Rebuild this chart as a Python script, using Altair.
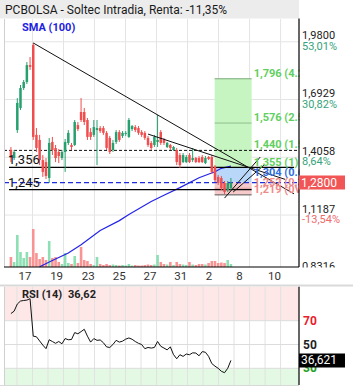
import altair as alt
import numpy as np
import pandas as pd

TITLE = "PCBOLSA - Soltec Intradia, Renta: -11,35%"

# ---- candles (one per bar) ----
opens = [1.442,1.402,1.541,1.651,1.750,1.780,1.864,1.964,1.517,1.492,
         1.392,1.382,1.303,1.482,1.452,1.432,1.402,1.432,1.477,1.467,
         1.467,1.566,1.631,1.631,1.591,1.531,1.517,1.541,1.551,1.551,
         1.527,1.502,1.442,1.482,1.531,1.512,1.522,1.507,1.546,1.556,
         1.551,1.531,1.527,1.502,1.477,1.467,1.482,1.531,1.492,1.457,
         1.467,1.442,1.442,1.417,1.382,1.382,1.417,1.392,1.402,1.402,
         1.407,1.377,1.407,1.407,1.358,1.308,1.303,1.278,1.243,1.253]
closes = [1.402,1.432,1.676,1.750,1.780,1.864,1.855,1.507,1.452,1.392,
          1.333,1.313,1.477,1.442,1.402,1.412,1.432,1.482,1.527,1.457,
          1.581,1.546,1.591,1.581,1.507,1.507,1.556,1.551,1.536,1.527,
          1.452,1.432,1.477,1.531,1.492,1.527,1.527,1.591,1.561,1.541,
          1.527,1.517,1.502,1.467,1.452,1.507,1.492,1.477,1.477,1.477,
          1.452,1.457,1.382,1.367,1.417,1.407,1.382,1.402,1.382,1.382,
          1.382,1.402,1.397,1.333,1.293,1.278,1.253,1.233,1.278,1.280]
highs = [1.457,1.442,1.700,1.765,1.790,1.879,1.904,1.974,1.551,1.517,
         1.417,1.402,1.502,1.507,1.467,1.447,1.442,1.497,1.541,1.477,
         1.591,1.581,1.700,1.651,1.601,1.551,1.591,1.591,1.561,1.561,
         1.536,1.512,1.492,1.541,1.541,1.536,1.536,1.601,1.566,1.566,
         1.561,1.541,1.536,1.512,1.487,1.517,1.616,1.541,1.502,1.482,
         1.472,1.462,1.452,1.427,1.427,1.417,1.427,1.452,1.407,1.412,
         1.417,1.412,1.412,1.417,1.367,1.318,1.313,1.288,1.288,1.303]
lows = [1.382,1.392,1.527,1.641,1.740,1.770,1.840,1.492,1.432,1.367,
        1.308,1.298,1.278,1.417,1.382,1.377,1.392,1.333,1.467,1.442,
        1.462,1.536,1.581,1.566,1.492,1.492,1.507,1.367,1.527,1.517,
        1.442,1.422,1.432,1.472,1.482,1.502,1.512,1.502,1.536,1.531,
        1.517,1.507,1.492,1.457,1.442,1.457,1.457,1.467,1.467,1.452,
        1.442,1.437,1.367,1.353,1.377,1.377,1.377,1.382,1.377,1.377,
        1.377,1.372,1.392,1.323,1.283,1.268,1.243,1.223,1.233,1.243]
volumes = [100,50,320,150,90,150,100,380,140,80,
           100,70,260,90,100,50,30,140,40,30,
           110,40,200,70,60,30,20,100,30,20,
           30,20,25,20,15,20,15,30,15,20,
           15,15,20,25,20,25,120,50,30,25,
           50,20,50,30,25,20,50,25,20,30,
           30,25,40,60,60,40,45,40,70,30]
rsi_values = [76,78,84,86.5,87,87.3,88.5,57,56.5,53,
              49.5,46.5,54,52.5,51,52.5,50.6,55,54,54.2,
              60,59,60.8,62.8,57,52,55,53.5,53.8,51.5,
              48,47.5,50,53.5,52,52.8,54.5,55.5,54.4,52.5,
              51,50,46.5,47.5,47,47.5,52.5,48.5,47,45.5,
              48,41.5,38,41.4,40,42,41.4,43,42.8,40.5,
              44,43.5,40,34,31.8,30,27.5,26.3,30,36.62]
sma_index = [9,13,18,22,28,34,37,44,48,53,59,64,66,69]
sma_values = [0.862,0.893,0.930,0.971,1.042,1.091,1.121,1.186,1.217,1.255,1.304,1.334,1.351,1.362]

# ---- axes text ----
price_ticks = [1.98, 1.6929, 1.4058, 1.1187, 0.8316]
price_tick_text = ["1,9800", "1,6929", "1,4058", "1,1187", "0,8316"]
price_tick_pct = ["53,01%", "30,82%", "8,64%", "-13,54%", "-35,73%"]
date_text = ["17", "19", "23", "25", "27", "31", "2", "8", "10"]
date_index = [4.39, 14.33, 24.24, 33.94, 43.64, 53.24, 62.12, 71.67, 82.64]
grid_index = [1.89, 6.76, 11.62, 16.48, 21.35, 26.21, 31.08, 35.94, 40.8, 45.67,
              50.53, 55.39, 60.26, 65.12, 69.98, 74.85, 79.71, 84.58]
rsi_levels = [70, 50, 30]
rsi_level_text = ["70", "50", "30"]

# ---- drawings ----
trend_id = ["a", "a", "b", "b", "c", "c", "d", "d"]
trend_index = [7, 88.8, 43, 86, 67, 78.2, 69.7, 79.4]
trend_price = [1.974, 1.224, 1.521, 1.296, 1.203, 1.407, 1.233, 1.367]
support_levels = [1.356, 1.245]
support_text = ["1,356", "1,245"]
support_end = [88.8, 75.5]
box_start, box_end = 63.9, 75.5
box_lo = [1.355, 1.28, 1.219]
box_hi = [1.796, 1.355, 1.28]
target_prices = [1.796, 1.576, 1.440, 1.355, 1.304, 1.252, 1.219]
target_text = ["1,796 (4.25)", "1,576 (2.59)", "1,440 (1.59)", "1,355 (1)",
               "1,304 (0.63)", "1,252 (0.35)", "1,219 (0V)"]
last_price = 1.28
last_rsi = 36.621

GREEN, RED = "#26a06e", "#f04e4e"
VGREEN, VRED = "#8ddfb4", "#f99494"
FONT = "Roboto"
XMIN, XMAX = -0.606, 88.788

xs = alt.Scale(domain=[XMIN, XMAX], range=[4, 299], nice=False, zero=False)
ps = alt.Scale(domain=[0.8605, 2.1875], range=[267, 0], nice=False, zero=False)
vs = alt.Scale(domain=[0, 380], range=[267, 229], nice=False, zero=False)
rs = alt.Scale(domain=[0, 100], range=[404, 285], nice=False, zero=False)


def X(f):
    return alt.X(f, type="quantitative", scale=xs, axis=None)


def P(f):
    return alt.Y(f, type="quantitative", scale=ps, axis=None)


def R(f):
    return alt.Y(f, type="quantitative", scale=rs, axis=None)


one = pd.DataFrame({"a": [0]})
cdf = pd.DataFrame(dict(i=list(range(len(opens))), o=opens, h=highs, l=lows, c=closes, v=volumes))
cdf["zero"] = 0
cdf["col"] = np.where(cdf.c >= cdf.o, GREEN, RED)
cdf["vcol"] = np.where(cdf.c >= cdf.o, VGREEN, VRED)
rdf = pd.DataFrame(dict(i=list(range(len(rsi_values))), r=rsi_values))
sdf = pd.DataFrame(dict(i=sma_index, s=sma_values))
tdf = pd.DataFrame(dict(p=price_ticks, t=price_tick_text, q=price_tick_pct))
tdf["qc"] = np.where(tdf.p >= 1.294, "#36a37a", "#f06a6a")
gdf = pd.DataFrame(dict(g=grid_index))
gmain = gdf.iloc[1::2]
ddf = pd.DataFrame(dict(i=date_index, t=date_text))
trdf = pd.DataFrame(dict(id=trend_id, i=trend_index, p=trend_price))
supdf = pd.DataFrame(dict(p=support_levels, t=support_text, e=support_end))
supdf["s"] = XMIN
bdf = pd.DataFrame(dict(lo=box_lo, hi=box_hi, col=["#c6f5c1", "#b9d7f8", "#f6caca"]))
bdf["s"], bdf["e"] = box_start, box_end
ldf = pd.DataFrame(dict(p=target_prices, t=target_text))
ldf["col"] = ["#5fcf5f"] * 4 + ["#2f6fe0"] + ["#f08a8a"] * 2
ldf["e"] = box_end
bline = pd.DataFrame(dict(p=[1.796, 1.576, 1.252, 1.219], col=["#7aa87a", "#8fbf8f", "#d8a0a0", "#555555"]))
bline["s"], bline["e"] = box_start, box_end
rl = pd.DataFrame(dict(r=rsi_levels, t=rsi_level_text, col=["#e8202a", "#222222", "#23a023"]))

layers = []
# title bar
layers.append(alt.Chart(one).mark_rect(color="#ececec").encode(
    x=alt.value(0), x2=alt.value(299), y=alt.value(0), y2=alt.value(18.5)))
# main grid
layers.append(alt.Chart(gmain).mark_rule(color="#e4e4e4").encode(
    x=X("g"), y=alt.value(19), y2=alt.value(267)))
layers.append(alt.Chart(tdf).mark_rule(color="#e4e4e4").encode(
    y=P("p"), x=alt.value(4), x2=alt.value(299)))
# RSI zones and grid
layers.append(alt.Chart(pd.DataFrame({"r": [70]})).mark_rect(color="#fde7e7").encode(
    y=R("r"), y2=alt.value(286.7), x=alt.value(4), x2=alt.value(299)))
layers.append(alt.Chart(pd.DataFrame({"r": [30]})).mark_rect(color="#e3f9e3").encode(
    y=R("r"), y2=alt.value(385), x=alt.value(4), x2=alt.value(299)))
layers.append(alt.Chart(gdf).mark_rule(color="#e2e2e2").encode(
    x=X("g"), y=alt.value(286.7), y2=alt.value(385)))
layers.append(alt.Chart(rl).mark_rule(color="#dcdcdc").encode(
    y=R("r"), x=alt.value(4), x2=alt.value(299)))
# volume
layers.append(alt.Chart(cdf).mark_bar(size=2.6, orient="vertical").encode(
    x=X("i"), y=alt.Y("v:Q", scale=vs, axis=None), y2="zero",
    color=alt.Color("vcol:N", scale=None)))
# position tool boxes
layers.append(alt.Chart(bdf).mark_rect().encode(
    x=X("s"), x2="e", y=P("lo"), y2="hi", color=alt.Color("col:N", scale=None)))
layers.append(alt.Chart(bline).mark_rule(strokeWidth=1).encode(
    x=X("s"), x2="e", y=P("p"), color=alt.Color("col:N", scale=None)))
# SMA
layers.append(alt.Chart(sdf).mark_line(color="#2424e8", strokeWidth=1.2).encode(
    x=X("i"), y=P("s")))
# horizontal levels
layers.append(alt.Chart(supdf).mark_rule(color="#000000", strokeWidth=1.2).encode(
    y=P("p"), x=X("s"), x2="e"))
layers.append(alt.Chart(pd.DataFrame({"p": [1.44]})).mark_rule(
    color="#111111", strokeDash=[3, 2], strokeWidth=1).encode(
    y=P("p"), x=alt.value(4), x2=alt.value(299)))
layers.append(alt.Chart(pd.DataFrame({"p": [last_price]})).mark_rule(
    color="#1f2fe0", strokeDash=[5, 3], strokeWidth=1.2).encode(
    y=P("p"), x=alt.value(4), x2=alt.value(299)))
# candles
layers.append(alt.Chart(cdf).mark_rule(strokeWidth=1).encode(
    x=X("i"), y=P("l"), y2="h", color=alt.Color("col:N", scale=None)))
layers.append(alt.Chart(cdf).mark_bar(size=2.5, orient="vertical").encode(
    x=X("i"), y=P("o"), y2="c", color=alt.Color("col:N", scale=None)))
# trendlines
layers.append(alt.Chart(trdf).mark_line(color="#111111", strokeWidth=1).encode(
    x=X("i"), y=P("p"), detail="id:N"))
# RSI line
layers.append(alt.Chart(rdf).mark_line(color="#111111", strokeWidth=1).encode(
    x=X("i"), y=R("r")))
# labels inside the chart
layers.append(alt.Chart(ldf).mark_text(
    align="left", baseline="bottom", dx=2, fontSize=11, fontWeight="bold", font=FONT).encode(
    x=X("e"), y=P("p"), text="t:N", color=alt.Color("col:N", scale=None)))
layers.append(alt.Chart(supdf).mark_text(
    align="left", baseline="bottom", fontSize=13, font=FONT, color="#111111").encode(
    x=alt.value(8), y=P("p"), text="t:N"))
layers.append(alt.Chart(pd.DataFrame({"t": ["SMA (100)"]})).mark_text(
    align="left", baseline="middle", fontSize=11, font=FONT, fontWeight="bold", color="#2222e0").encode(
    x=alt.value(22), y=alt.value(28), text="t:N"))
layers.append(alt.Chart(pd.DataFrame({"t": [TITLE]})).mark_text(
    align="left", baseline="middle", fontSize=12, font=FONT, color="#1a1a1a").encode(
    x=alt.value(5), y=alt.value(9.5), text="t:N"))
layers.append(alt.Chart(pd.DataFrame({"t": ["RSI (14)"]})).mark_text(
    align="left", baseline="middle", fontSize=11, font=FONT, fontWeight="bold", color="#222222").encode(
    x=alt.value(22), y=alt.value(295), text="t:N"))
layers.append(alt.Chart(pd.DataFrame({"t": ["36,62"]})).mark_text(
    align="left", baseline="middle", fontSize=11, font=FONT, fontWeight="bold", color="#222222").encode(
    x=alt.value(68), y=alt.value(295), text="t:N"))
# right axis area
layers.append(alt.Chart(one).mark_rect(color="#ffffff").encode(
    x=alt.value(299.5), x2=alt.value(353), y=alt.value(0), y2=alt.value(390)))
layers.append(alt.Chart(tdf).mark_text(
    align="left", baseline="middle", dy=-5.5, fontSize=11, font=FONT, color="#222222").encode(
    x=alt.value(302), y=P("p"), text="t:N"))
layers.append(alt.Chart(tdf).mark_text(
    align="left", baseline="middle", dy=5, fontSize=11, font=FONT).encode(
    x=alt.value(302), y=P("p"), text="q:N", color=alt.Color("qc:N", scale=None)))
# date band
layers.append(alt.Chart(one).mark_rect(color="#ffffff").encode(
    x=alt.value(0), x2=alt.value(353), y=alt.value(267.5), y2=alt.value(285)))
layers.append(alt.Chart(ddf).mark_text(
    align="center", baseline="middle", fontSize=11.5, font=FONT, color="#333333").encode(
    x=X("i"), y=alt.value(277), text="t:N"))
# borders
layers.append(alt.Chart(one).mark_rule(color="#d9d9d9", strokeWidth=2).encode(
    x=alt.value(0), x2=alt.value(353), y=alt.value(285.6)))
layers.append(alt.Chart(one).mark_rule(color="#d9d9d9", strokeWidth=1).encode(
    x=alt.value(0), x2=alt.value(299), y=alt.value(385.5)))
layers.append(alt.Chart(one).mark_rule(color="#d0d0d0").encode(
    x=alt.value(4.5), y=alt.value(19), y2=alt.value(267)))
layers.append(alt.Chart(one).mark_rule(color="#d0d0d0").encode(
    x=alt.value(4.5), y=alt.value(286.7), y2=alt.value(385)))
layers.append(alt.Chart(one).mark_rule(color="#000000", strokeWidth=1.2).encode(
    x=alt.value(4), x2=alt.value(299), y=alt.value(267)))
layers.append(alt.Chart(one).mark_rule(color="#000000", strokeWidth=1.2).encode(
    x=alt.value(299), y=alt.value(18.5), y2=alt.value(267)))
layers.append(alt.Chart(one).mark_rule(color="#000000", strokeWidth=1.2).encode(
    x=alt.value(299), y=alt.value(286.7), y2=alt.value(385)))
# last price tag
layers.append(alt.Chart(pd.DataFrame({"p": [last_price]})).mark_rule(
    color="#f25555", strokeWidth=14).encode(
    y=P("p"), x=alt.value(299), x2=alt.value(345)))
layers.append(alt.Chart(pd.DataFrame({"p": [last_price], "t": ["1,2800"]})).mark_text(
    align="left", baseline="middle", fontSize=12, font=FONT, color="#ffffff").encode(
    x=alt.value(301), y=P("p"), text="t:N"))
# RSI axis labels and tag
layers.append(alt.Chart(rl).mark_text(
    align="left", baseline="middle", fontSize=12, font=FONT, fontWeight="bold").encode(
    x=alt.value(303), y=R("r"), text="t:N", color=alt.Color("col:N", scale=None)))
layers.append(alt.Chart(pd.DataFrame({"r": [last_rsi]})).mark_rule(
    color="#000000", strokeWidth=14).encode(
    y=R("r"), x=alt.value(299), x2=alt.value(345)))
layers.append(alt.Chart(pd.DataFrame({"r": [last_rsi], "t": ["36,621"]})).mark_text(
    align="left", baseline="middle", fontSize=12, font=FONT, color="#ffffff").encode(
    x=alt.value(301), y=R("r"), text="t:N"))

chart = alt.layer(*layers).resolve_scale(y="independent").properties(
    width=353, height=390, padding=0,
    autosize=alt.AutoSizeParams(type="none"),
    background="#ffffff",
).configure_view(stroke=None)

chart.save("out.html", embed_options={"renderer": "svg", "actions": False})
